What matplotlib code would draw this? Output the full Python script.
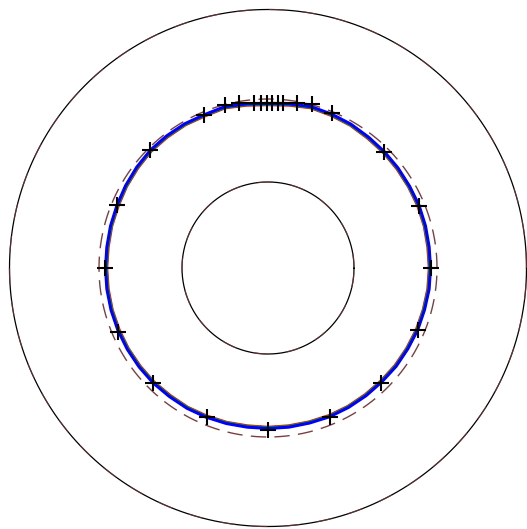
import numpy as np
import matplotlib
matplotlib.use("Agg")
import matplotlib.pyplot as plt

# radii of the reference circles
r_outer = 258.5
r_inner = 86.0
r_dashed = 169.0

# interface curves, polar (angle in deg, radius)
theta = [0, 7.5, 15, 22.5, 30, 37.5, 45, 52.5, 60, 67.5, 75, 82.5, 90, 97.5, 105,
         112.5, 120, 127.5, 135, 142.5, 150, 157.5, 165, 172.5, 180, 187.5, 195,
         202.5, 210, 217.5, 225, 232.5, 240, 247.5, 255, 262.5, 270, 277.5, 285,
         292.5, 300, 307.5, 315, 322.5, 330, 337.5, 345, 352.5, 360]
r_blue = [162.5, 162.5, 163, 163.5, 163.5, 164, 164.5, 165, 166, 166.5, 167, 165.5,
          164.5, 165.5, 167, 166, 166.5, 166.5, 166.5, 165.5, 164.5, 163.5, 163,
          162.5, 162.5, 162.5, 162.5, 162.5, 162.5, 162.5, 162.5, 162, 162, 161.5,
          161, 160.5, 160.5, 160.5, 160.5, 161, 161, 161, 161, 161.5, 161.5, 162,
          162, 162.5, 162.5]
r_green = [161.8, 161.9, 162.3, 162.9, 162.8, 163.4, 163.8, 164.4, 165.3, 165.9, 166.3, 164.9,
           163.8, 164.9, 166.3, 165.4, 165.8, 165.9, 165.8, 164.9, 163.8, 162.9, 162.3,
           161.9, 161.8, 161.9, 161.8, 161.9, 161.8, 161.9, 161.8, 161.4, 161.3, 160.9,
           160.3, 159.9, 159.8, 159.9, 159.8, 160.4, 160.3, 160.4, 160.3, 160.9, 160.8, 161.4,
           161.3, 161.9, 161.8]
r_red = [161.3, 161.2, 161.8, 162.2, 162.3, 162.7, 163.3, 163.7, 164.8, 165.2, 165.8, 164.2,
         163.3, 164.2, 165.8, 164.7, 165.3, 165.2, 165.3, 164.2, 163.3, 162.2, 161.8,
         161.2, 161.3, 161.2, 161.3, 161.2, 161.3, 161.2, 161.3, 160.7, 160.8, 160.2,
         159.8, 159.2, 159.3, 159.2, 159.3, 159.7, 159.8, 159.7, 159.8, 160.2, 160.3, 160.7,
         160.8, 161.2, 161.3]

# marker points (x, y)
mx = [163, 151, 116, 64, 44, 29, 15, 10, 4, -1, -7, -14, -29, -43, -64, -118,
      -151, -163, -150, -115, -61, 0, 62, 113, 150]
my = [0, 62, 116, 155, 164, 165, 165, 165, 165, 165, 165, 165, 165, 163, 153, 118,
      63, 0, -64, -115, -149, -162, -149, -115, -62]

fig = plt.figure(figsize=(5.27, 5.29), dpi=100)
ax = fig.add_axes([0, 0, 1, 1])
ax.set_xlim(-268, 259)
ax.set_ylim(-261, 268)
ax.set_aspect('equal')
ax.axis('off')

t = np.linspace(0, 2 * np.pi, 721)
brown = '#7a4040'

for r in (r_outer, r_inner):
    ax.plot(r * np.cos(t), r * np.sin(t), color='black', lw=0.9)
    ax.plot(r * np.cos(t), r * np.sin(t), color=brown, lw=0.9, ls=(0, (12, 14)), alpha=0.7)

ax.plot(r_dashed * np.cos(t), r_dashed * np.sin(t), color=brown, lw=1.0,
        ls=(0, (11, 6)))

th = np.radians(theta)
for rr, c in ((r_red, 'red'), (r_green, '#00b000'), (r_blue, 'blue')):
    rr = np.array(rr)
    ax.plot(rr * np.cos(th), rr * np.sin(th), color=c, lw=2.2)

ax.plot(mx, my, ls='none', marker='+', color='black', markersize=12, mew=1.5)

fig.savefig('out.png', dpi=100)
